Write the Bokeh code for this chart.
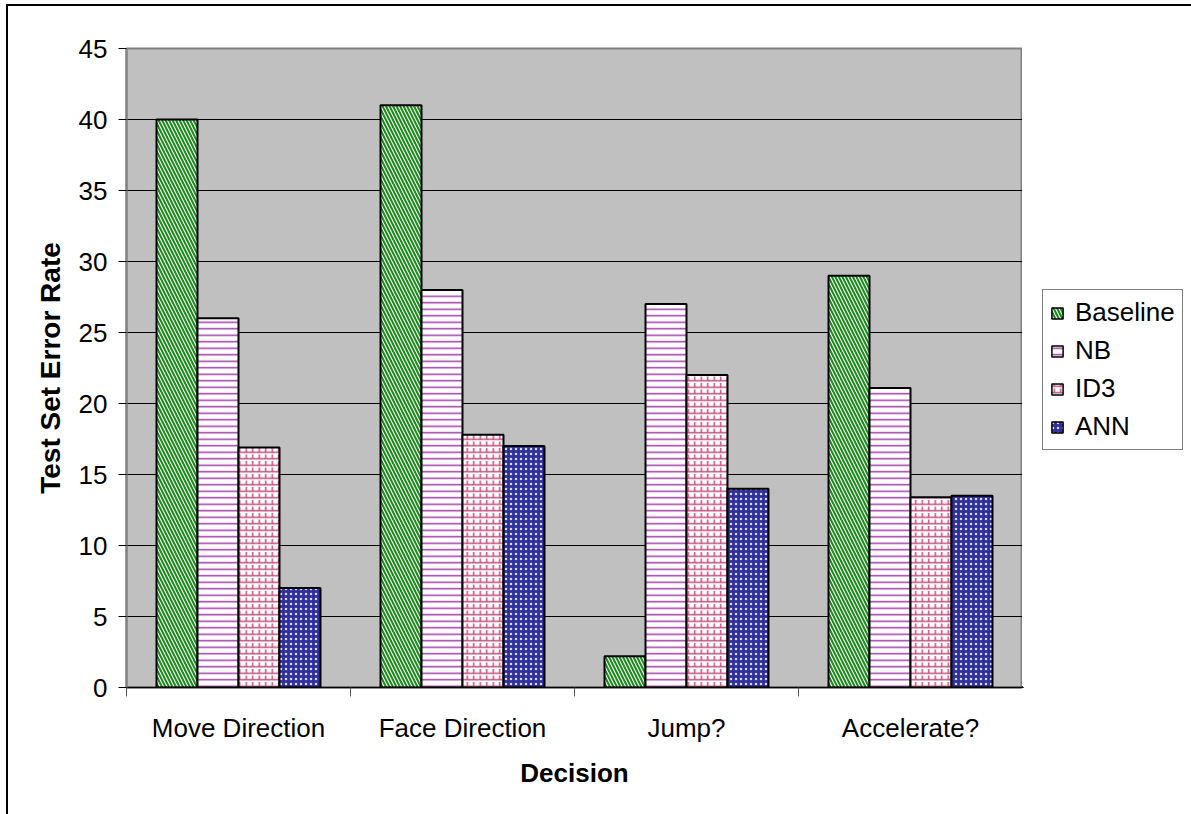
import numpy as np
from bokeh.plotting import figure
from bokeh.layouts import row
from bokeh.models import (Range1d, FixedTicker, Legend, LegendItem,
                          ColumnDataSource)
from bokeh.embed import file_html
from bokeh.resources import INLINE

# Test set error rate (%) per decision type and learning method
decisions = ["Move Direction", "Face Direction", "Jump?", "Accelerate?"]
methods = ["Baseline", "NB", "ID3", "ANN"]
baseline = [40, 41, 2.2, 29]
nb = [26, 28, 27, 21.1]
id3 = [16.9, 17.8, 22, 13.4]
ann = [7, 17, 14, 13.5]
y_ticks = [0, 5, 10, 15, 20, 25, 30, 35, 40, 45]

FONT = "Liberation Sans"
FS = "26px"
BAR_W = 0.183

p = figure(width=1014, height=808,
           min_border_left=118, min_border_right=0,
           min_border_top=42, min_border_bottom=127,
           x_range=Range1d(0, len(decisions)), y_range=Range1d(0, 45),
           output_backend="svg", toolbar_location=None)

p.background_fill_color = "#C0C0C0"
p.border_fill_color = "white"
p.outline_line_color = "#808080"
p.outline_line_width = 2

centers = np.arange(len(decisions)) + 0.5

# fill styles per method; ID3 uses two layers to build a brick look
styles = [
    [dict(fill_color="white", hatch_pattern="\\", hatch_color="#168C16",
          hatch_scale=7, hatch_weight=2)],
    [dict(fill_color="white", hatch_pattern="-", hatch_color="#A03CA8",
          hatch_scale=6.5, hatch_weight=1.5)],
    [dict(fill_color="white", hatch_pattern="-", hatch_color="#C0507C",
          hatch_scale=6.5, hatch_weight=1.5),
     dict(fill_alpha=0, hatch_pattern=":", hatch_color="#C0507C",
          hatch_scale=6.5, hatch_weight=1.5)],
    [dict(fill_color="#30309A", hatch_pattern=".", hatch_color="#D8D8F0",
          hatch_scale=5, hatch_weight=1.5)],
]

sources = []
for k, (vals, layers) in enumerate(zip([baseline, nb, id3, ann], styles)):
    src = ColumnDataSource(dict(x=centers + (k - 1.5) * BAR_W, top=vals))
    sources.append(src)
    for i, st in enumerate(layers):
        p.vbar(x="x", top="top", bottom=0, width=BAR_W, source=src,
               line_color="black" if i == len(layers) - 1 else None,
               line_width=2, **st)

# y axis
p.yaxis.ticker = FixedTicker(ticks=y_ticks)
p.yaxis.minor_tick_line_color = None
p.yaxis.major_tick_in = 0
p.yaxis.major_tick_out = 8
p.yaxis.major_tick_line_color = "black"
p.yaxis.axis_line_color = "#808080"
p.yaxis.axis_line_width = 2
p.yaxis.major_label_text_font = FONT
p.yaxis.major_label_text_font_size = FS
p.yaxis.major_label_text_color = "black"
p.yaxis.major_label_standoff = 11
p.yaxis.axis_label = "Test Set Error Rate"
p.yaxis.axis_label_text_font = FONT
p.yaxis.axis_label_text_font_size = "28px"
p.yaxis.axis_label_text_font_style = "bold"
p.yaxis.axis_label_text_color = "black"
p.yaxis.axis_label_standoff = 10

# x axis: labels at group centres, tick marks at group boundaries
p.xaxis.ticker = FixedTicker(ticks=list(centers),
                             minor_ticks=list(range(len(decisions) + 1)))
p.xaxis.major_label_overrides = {float(c): d for c, d in zip(centers, decisions)}
p.xaxis.major_tick_line_color = None
p.xaxis.minor_tick_in = 0
p.xaxis.minor_tick_out = 9
p.xaxis.minor_tick_line_color = "#555555"
p.xaxis.axis_line_color = "black"
p.xaxis.axis_line_width = 1.5
p.xaxis.major_label_text_font = FONT
p.xaxis.major_label_text_font_size = FS
p.xaxis.major_label_text_color = "black"
p.xaxis.major_label_standoff = 16
p.xaxis.axis_label = "Decision"
p.xaxis.axis_label_text_font = FONT
p.xaxis.axis_label_text_font_size = FS
p.xaxis.axis_label_text_font_style = "bold"
p.xaxis.axis_label_text_color = "black"
p.xaxis.axis_label_standoff = 12

p.xgrid.grid_line_color = None
p.ygrid.grid_line_color = "black"
p.ygrid.grid_line_width = 1

# legend panel beside the chart; its keys reuse the bar sources and styles,
# with the view range set away from the bars so only the legend shows
lp = figure(width=169, height=808, min_border=0,
            x_range=Range1d(100, 101), y_range=Range1d(100, 101),
            x_axis_type=None, y_axis_type=None,
            output_backend="svg", toolbar_location=None)
lp.outline_line_color = None
lp.background_fill_color = "white"
lp.border_fill_color = "white"
lp.xgrid.grid_line_color = None
lp.ygrid.grid_line_color = None

items = []
for name, src, layers in zip(methods, sources, styles):
    rs = []
    for i, st in enumerate(layers):
        rs.append(lp.vbar(x="x", top="top", bottom=0, width=BAR_W, source=src,
                          line_color="black" if i == len(layers) - 1 else None,
                          line_width=1.5, **st))
    items.append(LegendItem(label=name, renderers=rs))

legend = Legend(items=items, location=(20, 237), orientation="vertical",
                label_text_font=FONT, label_text_font_size=FS,
                label_text_color="black",
                glyph_width=14, glyph_height=14, label_height=26,
                label_standoff=11, spacing=7, padding=7, margin=0,
                border_line_color="black", border_line_width=1,
                background_fill_color="white", background_fill_alpha=1)
lp.add_layout(legend, "center")

layout = row(p, lp)
layout.styles = {"margin-left": "6px", "margin-top": "4px",
                 "border-left": "2px solid #000", "border-top": "2px solid #000"}

open("out.html", "w").write(file_html(layout, INLINE))
